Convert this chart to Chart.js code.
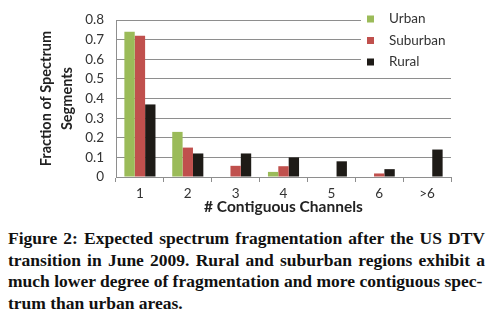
<!DOCTYPE html>
<html>
<head>
<meta charset="utf-8">
<script src="https://cdn.jsdelivr.net/npm/chart.js@4"></script>
<style>
  html, body { margin: 0; padding: 0; background: #fff; }
  body { width: 490px; height: 319px; position: relative; overflow: hidden; }
  #chart-wrap { position: absolute; left: 0; top: 0; width: 490px; height: 220px; }
  #caption {
    position: absolute; left: 8px; top: 228px; width: 477px;
    font-family: "Liberation Serif", "Times New Roman", serif;
    font-weight: bold; font-size: 17.5px; line-height: 21.5px;
    text-align: justify; color: #111;
  }
</style>
</head>
<body>
<div id="chart-wrap"><canvas id="fragChart" width="490" height="220"></canvas></div>
<div id="caption">Figure 2: Expected spectrum fragmentation after the US DTV transition in June 2009. Rural and suburban regions exhibit a much lower degree of fragmentation and more contiguous spec-<br>trum than urban areas.</div>
<script>
// Data
const categories = ['1', '2', '3', '4', '5', '6', '>6'];
const urban    = [0.74, 0.23, 0,     0.026, 0,    0,     0];
const suburban = [0.72, 0.15, 0.057, 0.055, 0,    0.018, 0];
const rural    = [0.37, 0.12, 0.12,  0.10,  0.08, 0.04,  0.14];

const FONT = 'Lato, "Open Sans", sans-serif';
const GRID = '#8e8e8e';

// Legend drawn inside the plot, on a white box (like Excel)
const boxLegend = {
    id: 'boxLegend',
    afterDatasetsDraw(chart) {
        const ctx = chart.ctx;
        ctx.save();
        ctx.fillStyle = '#fff';
        ctx.fillRect(361, 0, 130, 72);
        ctx.font = '13.5px ' + FONT;
        ctx.textBaseline = 'middle';
        chart.data.datasets.forEach((ds, i) => {
            const y = 19 + i * 21.5;
            ctx.fillStyle = ds.backgroundColor;
            ctx.fillRect(367, y - 3.5, 7, 7);
            ctx.fillStyle = '#333';
            ctx.fillText(ds.label, 389, y);
        });
        ctx.restore();
    }
};

function initChart() {
    const ctx = document.getElementById('fragChart').getContext('2d');
    new Chart(ctx, {
        type: 'bar',
        data: {
            labels: categories,
            datasets: [
                { label: 'Urban', data: urban, backgroundColor: '#9bbb59' },
                { label: 'Suburban', data: suburban, backgroundColor: '#c0504d' },
                { label: 'Rural', data: rural, backgroundColor: '#1e1b17' }
            ]
        },
        options: {
            responsive: false,
            animation: false,
            layout: { padding: { top: 15, right: 39, left: 0, bottom: 0 } },
            datasets: { bar: { categoryPercentage: 0.65, barPercentage: 1.0 } },
            plugins: { legend: { display: false }, tooltip: { enabled: false } },
            scales: {
                x: {
                    grid: { drawOnChartArea: false, drawTicks: true, tickLength: 5, color: GRID, offset: true },
                    border: { color: GRID },
                    ticks: { color: '#333', font: { family: FONT, size: 13.5 }, padding: 4 },
                    title: {
                        display: true, text: '# Contiguous Channels', color: '#222',
                        font: { family: FONT, size: 15.5, weight: 'bold' }, padding: { top: 0 }
                    },
                    afterFit(scale) { scale.height = 43; }
                },
                y: {
                    min: 0, max: 0.8,
                    grid: { color: GRID, drawTicks: false },
                    border: { color: GRID },
                    ticks: {
                        stepSize: 0.1, color: '#333', padding: 12,
                        font: { family: FONT, size: 13.5 },
                        callback: v => (Math.round(v * 10) / 10).toString()
                    },
                    title: {
                        display: true, text: ['Fraction of Spectrum', 'Segments'], color: '#222',
                        font: { family: FONT, size: 14.5, weight: 'bold', lineHeight: 1.45 },
                        padding: { top: 36, bottom: 0 }
                    },
                    afterFit(scale) { scale.width = 116; }
                }
            }
        },
        plugins: [boxLegend]
    });
}

window.addEventListener('DOMContentLoaded', initChart);
</script>
</body>
</html>
